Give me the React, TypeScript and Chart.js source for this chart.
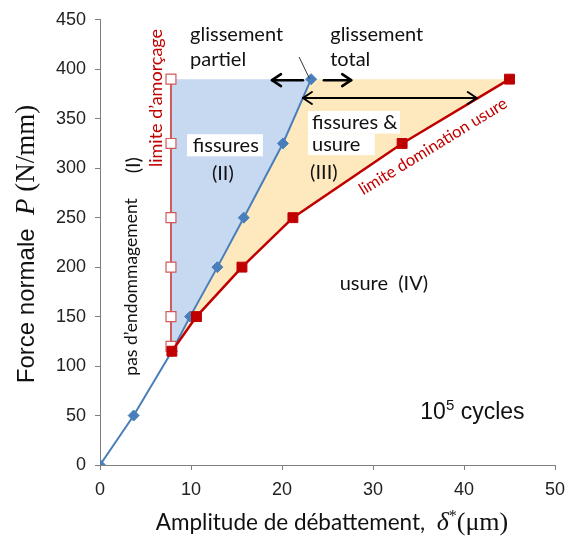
import React, { useEffect, useRef } from "react";
import { Chart, registerables } from "chart.js";

Chart.register(...registerables);

// ---- data ----
const blueX = [0, 3.7, 7.9, 9.9, 12.9, 15.8, 20.1, 23.2];
const blueY = [0, 50, 115, 150, 200, 250, 325, 390];
const redX = [7.9, 10.6, 15.6, 21.2, 33.2, 45];
const redY = [115, 150, 200, 250, 325, 390];
const openX = [7.8, 7.8, 7.8, 7.8, 7.8, 7.8];
const openY = [120, 150, 200, 250, 325, 390];
const xTicks = [0, 10, 20, 30, 40, 50];
const yTicks = [0, 50, 100, 150, 200, 250, 300, 350, 400, 450];

// annotation anchors in data units
const arrowsSingle = [
  { x1: 22.3, y1: 389, x2: 18.9, y2: 389 },
  { x1: 24.6, y1: 389, x2: 27.6, y2: 389 },
];
const arrowDouble = { x1: 22.3, x2: 41.4, y: 371 };
const leader = { x1: 21.9, y1: 412, x2: 23.0, y2: 391 };

const BLUE = "#4a7ebb";
const RED = "#c00000";
const OPEN_RED = "#d05a5a";
const BLUE_FILL = "#c6d9f1";
const YELLOW_FILL = "#fde9bd";
const SANS = "Lato, 'Open Sans', sans-serif";
const ARIAL = "'Liberation Sans', Arial, sans-serif";
const SERIF = "'Liberation Serif', 'DejaVu Serif', serif";

const pts = (xs: number[], ys: number[]) => xs.map((x, i) => ({ x, y: ys[i] }));

const fillPlugin = {
  id: "regions",
  beforeDatasetsDraw(chart: any) {
    const { ctx, scales } = chart;
    const X = (v: number) => scales.x.getPixelForValue(v);
    const Y = (v: number) => scales.y.getPixelForValue(v);
    ctx.save();
    ctx.beginPath();
    openX.forEach((x, i) => (i === 0 ? ctx.moveTo(X(x), Y(openY[i])) : ctx.lineTo(X(x), Y(openY[i]))));
    for (let i = blueX.length - 1; i >= 2; i--) ctx.lineTo(X(blueX[i]), Y(blueY[i]));
    ctx.closePath();
    ctx.fillStyle = BLUE_FILL;
    ctx.fill();
    ctx.beginPath();
    for (let i = 2; i < blueX.length; i++) {
      if (i === 2) ctx.moveTo(X(blueX[i]), Y(blueY[i]));
      else ctx.lineTo(X(blueX[i]), Y(blueY[i]));
    }
    for (let i = redX.length - 1; i >= 0; i--) ctx.lineTo(X(redX[i]), Y(redY[i]));
    ctx.closePath();
    ctx.fillStyle = YELLOW_FILL;
    ctx.fill();
    ctx.restore();
  },
};

function drawArrowHead(ctx: any, x: number, y: number, dir: number) {
  ctx.beginPath();
  ctx.moveTo(x + dir * -9, y - 6);
  ctx.lineTo(x, y);
  ctx.lineTo(x + dir * -9, y + 6);
  ctx.stroke();
}

function drawSegments(ctx: any, segs: { t: string; f: string; dy?: number }[], cx: number, cy: number) {
  let total = 0;
  segs.forEach((s) => {
    ctx.font = s.f;
    total += ctx.measureText(s.t).width;
  });
  let x = cx - total / 2;
  ctx.textAlign = "left";
  segs.forEach((s) => {
    ctx.font = s.f;
    ctx.fillText(s.t, x, cy + (s.dy || 0));
    x += ctx.measureText(s.t).width;
  });
}

function rotText(ctx: any, t: string, x: number, y: number, ang: number, font: string, color: string) {
  ctx.save();
  ctx.translate(x, y);
  ctx.rotate(ang);
  ctx.fillStyle = color;
  ctx.font = font;
  ctx.textAlign = "center";
  ctx.fillText(t, 0, 0);
  ctx.restore();
}

const annotPlugin = {
  id: "annots",
  afterDatasetsDraw(chart: any) {
    const { ctx, scales } = chart;
    const X = (v: number) => scales.x.getPixelForValue(v);
    const Y = (v: number) => scales.y.getPixelForValue(v);
    ctx.save();
    ctx.textBaseline = "middle";

    // white boxes
    ctx.fillStyle = "#ffffff";
    ctx.fillRect(X(9.56), Y(334.4), X(17.9) - X(9.56), Y(312) - Y(334.4));
    ctx.fillRect(X(22.86), Y(357.8), X(32.97) - X(22.86), Y(335) - Y(357.8));
    ctx.fillRect(X(22.86), Y(335), X(30.2) - X(22.86), Y(313.2) - Y(335));

    ctx.fillStyle = "#111";
    ctx.font = `20px ${SANS}`;
    ctx.textAlign = "left";
    ctx.fillText("glissement", X(9.9), Y(435));
    ctx.fillText("partiel", X(9.9), Y(410));
    ctx.fillText("glissement", X(25.3), Y(435));
    ctx.fillText("total", X(25.3), Y(410));
    ctx.fillText("fissures &", X(23.3), Y(346));
    ctx.fillText("usure", X(23.3), Y(324));
    ctx.fillText("fissures", X(10.2), Y(323));
    ctx.textAlign = "center";
    ctx.fillText("(II)", X(13.5), Y(295));
    ctx.fillText("(III)", X(24.6), Y(296));
    ctx.fillText("usure  (IV)", X(31.2), Y(183));

    // 10^5 cycles
    ctx.textAlign = "left";
    ctx.font = `23px ${ARIAL}`;
    let cx = X(35.2);
    const cy = Y(53);
    ctx.fillText("10", cx, cy);
    cx += ctx.measureText("10").width;
    ctx.font = `15px ${ARIAL}`;
    ctx.fillText("5", cx, cy - 7);
    cx += ctx.measureText("5").width;
    ctx.font = `23px ${ARIAL}`;
    ctx.fillText(" cycles", cx, cy);

    // rotated texts
    rotText(ctx, "limite d\u2019amor\u00e7age", X(6.15), Y(371), -Math.PI / 2, `18px ${SANS}`, RED);
    rotText(ctx, "pas d\u2019endommagement", X(3.5), Y(180), -Math.PI / 2, `17.5px ${SANS}`, "#111");
    rotText(ctx, "(I)", X(3.7), Y(303), -Math.PI / 2, `20px ${SANS}`, "#111");
    const ax = X(33.2), ay = Y(325), bx = X(45), by = Y(390);
    rotText(ctx, "limite domination usure", X(36.6), Y(322), Math.atan2(by - ay, bx - ax) - 0.01, `16.5px ${SANS}`, RED);

    // arrows
    ctx.strokeStyle = "#000";
    ctx.lineWidth = 2.5;
    ctx.lineCap = "round";
    ctx.lineJoin = "round";
    arrowsSingle.forEach((a) => {
      ctx.beginPath();
      ctx.moveTo(X(a.x1), Y(a.y1));
      ctx.lineTo(X(a.x2), Y(a.y2));
      ctx.stroke();
      drawArrowHead(ctx, X(a.x2), Y(a.y2), a.x2 > a.x1 ? 1 : -1);
    });
    ctx.lineWidth = 2;
    ctx.beginPath();
    ctx.moveTo(X(arrowDouble.x1), Y(arrowDouble.y));
    ctx.lineTo(X(arrowDouble.x2), Y(arrowDouble.y));
    ctx.stroke();
    drawArrowHead(ctx, X(arrowDouble.x1), Y(arrowDouble.y), -1);
    drawArrowHead(ctx, X(arrowDouble.x2), Y(arrowDouble.y), 1);

    ctx.lineWidth = 1;
    ctx.strokeStyle = "#333";
    ctx.beginPath();
    ctx.moveTo(X(leader.x1), Y(leader.y1));
    ctx.lineTo(X(leader.x2), Y(leader.y2));
    ctx.stroke();

    ctx.restore();
  },
  afterDraw(chart: any) {
    const { ctx } = chart;
    ctx.save();
    ctx.fillStyle = "#111";
    ctx.textBaseline = "alphabetic";
    // y title
    ctx.save();
    ctx.translate(34, 244);
    ctx.rotate(-Math.PI / 2);
    drawSegments(
      ctx,
      [
        { t: "Force normale  ", f: `24px ${ARIAL}` },
        { t: "P", f: `italic 27px ${SERIF}` },
        { t: " (N/mm)", f: `27px ${SERIF}` },
      ],
      0,
      0
    );
    ctx.restore();
    // x title
    drawSegments(
      ctx,
      [
        { t: "Amplitude de d\u00e9battement,  ", f: `22.5px ${SANS}` },
        { t: "\u03b4", f: `italic 26px ${SERIF}` },
        { t: "*", f: `16px ${SERIF}`, dy: -9 },
        { t: "(\u03bcm)", f: `26px ${SERIF}` },
      ],
      332,
      530
    );
    ctx.restore();
  },
};

export default function App() {
  const ref = useRef<HTMLCanvasElement | null>(null);
  useEffect(() => {
    document.body.style.margin = "0";
    if (!ref.current) return;
    const chart = new Chart(ref.current, {
      type: "scatter",
      data: {
        datasets: [
          {
            label: "limite domination usure",
            data: pts(redX, redY),
            showLine: true,
            borderColor: RED,
            backgroundColor: RED,
            borderWidth: 2.5,
            pointStyle: "rect",
            pointRadius: 7,
            pointBorderWidth: 1,
          },
          {
            label: "limite d'amorçage",
            data: pts(openX, openY),
            showLine: true,
            borderColor: OPEN_RED,
            backgroundColor: "#ffffff",
            borderWidth: 2,
            pointStyle: "rect",
            pointRadius: 7,
            pointBorderWidth: 1.2,
          },
          {
            label: "glissement",
            data: pts(blueX, blueY),
            showLine: true,
            borderColor: BLUE,
            backgroundColor: BLUE,
            borderWidth: 2,
            pointStyle: "rectRot",
            pointRadius: 5.5,
            pointBorderWidth: 1,
          },
        ],
      },
      options: {
        animation: false,
        responsive: false,
        layout: { padding: { top: 19, right: 13, left: 0, bottom: 0 } },
        plugins: { legend: { display: false }, tooltip: { enabled: false } },
        scales: {
          x: {
            type: "linear",
            min: 0,
            max: 50,
            afterFit: (s: any) => {
              s.height = 78;
              s.paddingRight = 0;
              s.paddingLeft = 0;
            },
            afterBuildTicks: (s: any) => {
              s.ticks = xTicks.map((v) => ({ value: v }));
            },
            grid: { drawOnChartArea: false, tickLength: 5, color: "#7f7f7f" },
            border: { color: "#7f7f7f", width: 1 },
            ticks: { font: { family: ARIAL, size: 18 }, color: "#222", padding: 9 },
          },
          y: {
            type: "linear",
            min: 0,
            max: 450,
            afterFit: (s: any) => {
              s.width = 100;
            },
            afterBuildTicks: (s: any) => {
              s.ticks = yTicks.map((v) => ({ value: v }));
            },
            grid: { drawOnChartArea: false, tickLength: 5, color: "#7f7f7f" },
            border: { color: "#7f7f7f", width: 1 },
            ticks: { font: { family: ARIAL, size: 18 }, color: "#222", padding: 9 },
          },
        },
      },
      plugins: [fillPlugin, annotPlugin],
    } as any);
    return () => chart.destroy();
  }, []);
  return (
    <div style={{ width: 568, height: 543 }}>
      <canvas ref={ref} width={568} height={543} />
    </div>
  );
}
